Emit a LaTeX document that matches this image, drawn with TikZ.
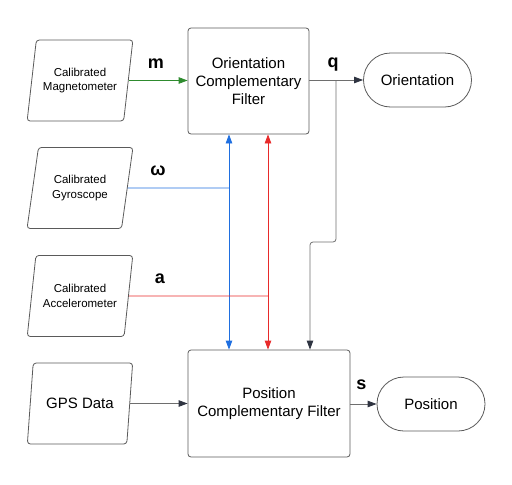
\documentclass[tikz,border=0pt]{standalone}
\usepackage{fontspec}
\setmainfont{Liberation Sans}
\usetikzlibrary{shapes.geometric,arrows.meta}
\definecolor{linegray}{HTML}{6E6E6E}
\definecolor{tipgray}{HTML}{2F3441}
\definecolor{boxgray}{HTML}{5A5A5A}
\definecolor{maggreen}{HTML}{2E8B2E}
\definecolor{gyrblue}{HTML}{1F6FE0}
\definecolor{accred}{HTML}{E82A2A}
\tikzset{
  filterbox/.style={draw=boxgray, rounded corners=3pt, align=center, font=\fontsize{15}{18}\selectfont},
  sensorbox/.style={draw=boxgray, trapezium, trapezium left angle=75, trapezium right angle=105,
    trapezium stretches=true, minimum width=106pt, minimum height=81pt, rounded corners=3pt,
    align=center, font=\fontsize{11.5}{14.5}\selectfont},
  endbox/.style={draw=boxgray, rounded corners=27pt, minimum width=108pt, minimum height=54pt,
    font=\fontsize{15}{18}\selectfont},
  flow/.style={draw=linegray, -{Triangle[length=9pt,width=6.5pt,color=#1]}},
  flow/.default=tipgray,
  dual/.style={draw=#1, {Triangle[length=9pt,width=6.5pt,color=#1]}-{Triangle[length=9pt,width=6.5pt,color=#1]}},
  signal/.style={font=\fontsize{18}{20}\selectfont\bfseries}
}
\begin{document}
\begin{tikzpicture}[x=1pt,y=-1pt,line width=0.8pt]
\useasboundingbox (0,0) rectangle (512,485);
% inputs
\node[sensorbox] (mag) at (80,80.5) {Calibrated\\Magnetometer};
\node[sensorbox] (gyro) at (80,188) {Calibrated\\Gyroscope};
\node[sensorbox] (acc) at (80,296) {Calibrated\\Accelerometer};
\node[sensorbox, font=\fontsize{15}{18}\selectfont] (gps) at (80,403.5) {GPS Data};
% filters
\node[filterbox, minimum width=121pt, minimum height=106pt] (ocf) at (248.5,81) {Orientation\\Complementary\\Filter};
\node[filterbox, minimum width=162pt, minimum height=107pt] (pcf) at (269,403.5) {Position\\Complementary Filter};
% outputs
\node[endbox] (orient) at (417.5,80) {Orientation};
\node[endbox] (pos) at (431,404) {Position};
% junctions
\coordinate (qsplit) at (336,80);
\coordinate (qstep) at (310,242);
\coordinate (wjoin) at (229,188);
\coordinate (ajoin) at (268,296);
% connectors
\draw[flow=maggreen, draw=maggreen] (mag.east) -- (mag.east -| ocf.west);
\draw[flow] (ocf.east |- orient.west) -- (orient.west);
\draw[flow, rounded corners=3pt] (qsplit) |- (qstep) -- (qstep |- pcf.north);
\draw[draw=gyrblue] (gyro.east) -- (wjoin);
\draw[dual=gyrblue] (wjoin |- ocf.south) -- (wjoin |- pcf.north);
\draw[draw=accred] (acc.east) -- (ajoin);
\draw[dual=accred] (ajoin |- ocf.south) -- (ajoin |- pcf.north);
\draw[flow] (gps.east) -- (gps.east -| pcf.west);
\draw[flow] (pcf.east |- pos.west) -- (pos.west);
% signal labels
\node[signal] (mlabel) at (156,64) {m};
\node[signal] (qlabel) at (333,65) {q};
\node[signal] (wlabel) at (158,171) {ω};
\node[signal] (alabel) at (160,279) {a};
\node[signal] (slabel) at (361.5,384.5) {s};
\end{tikzpicture}
\end{document}
